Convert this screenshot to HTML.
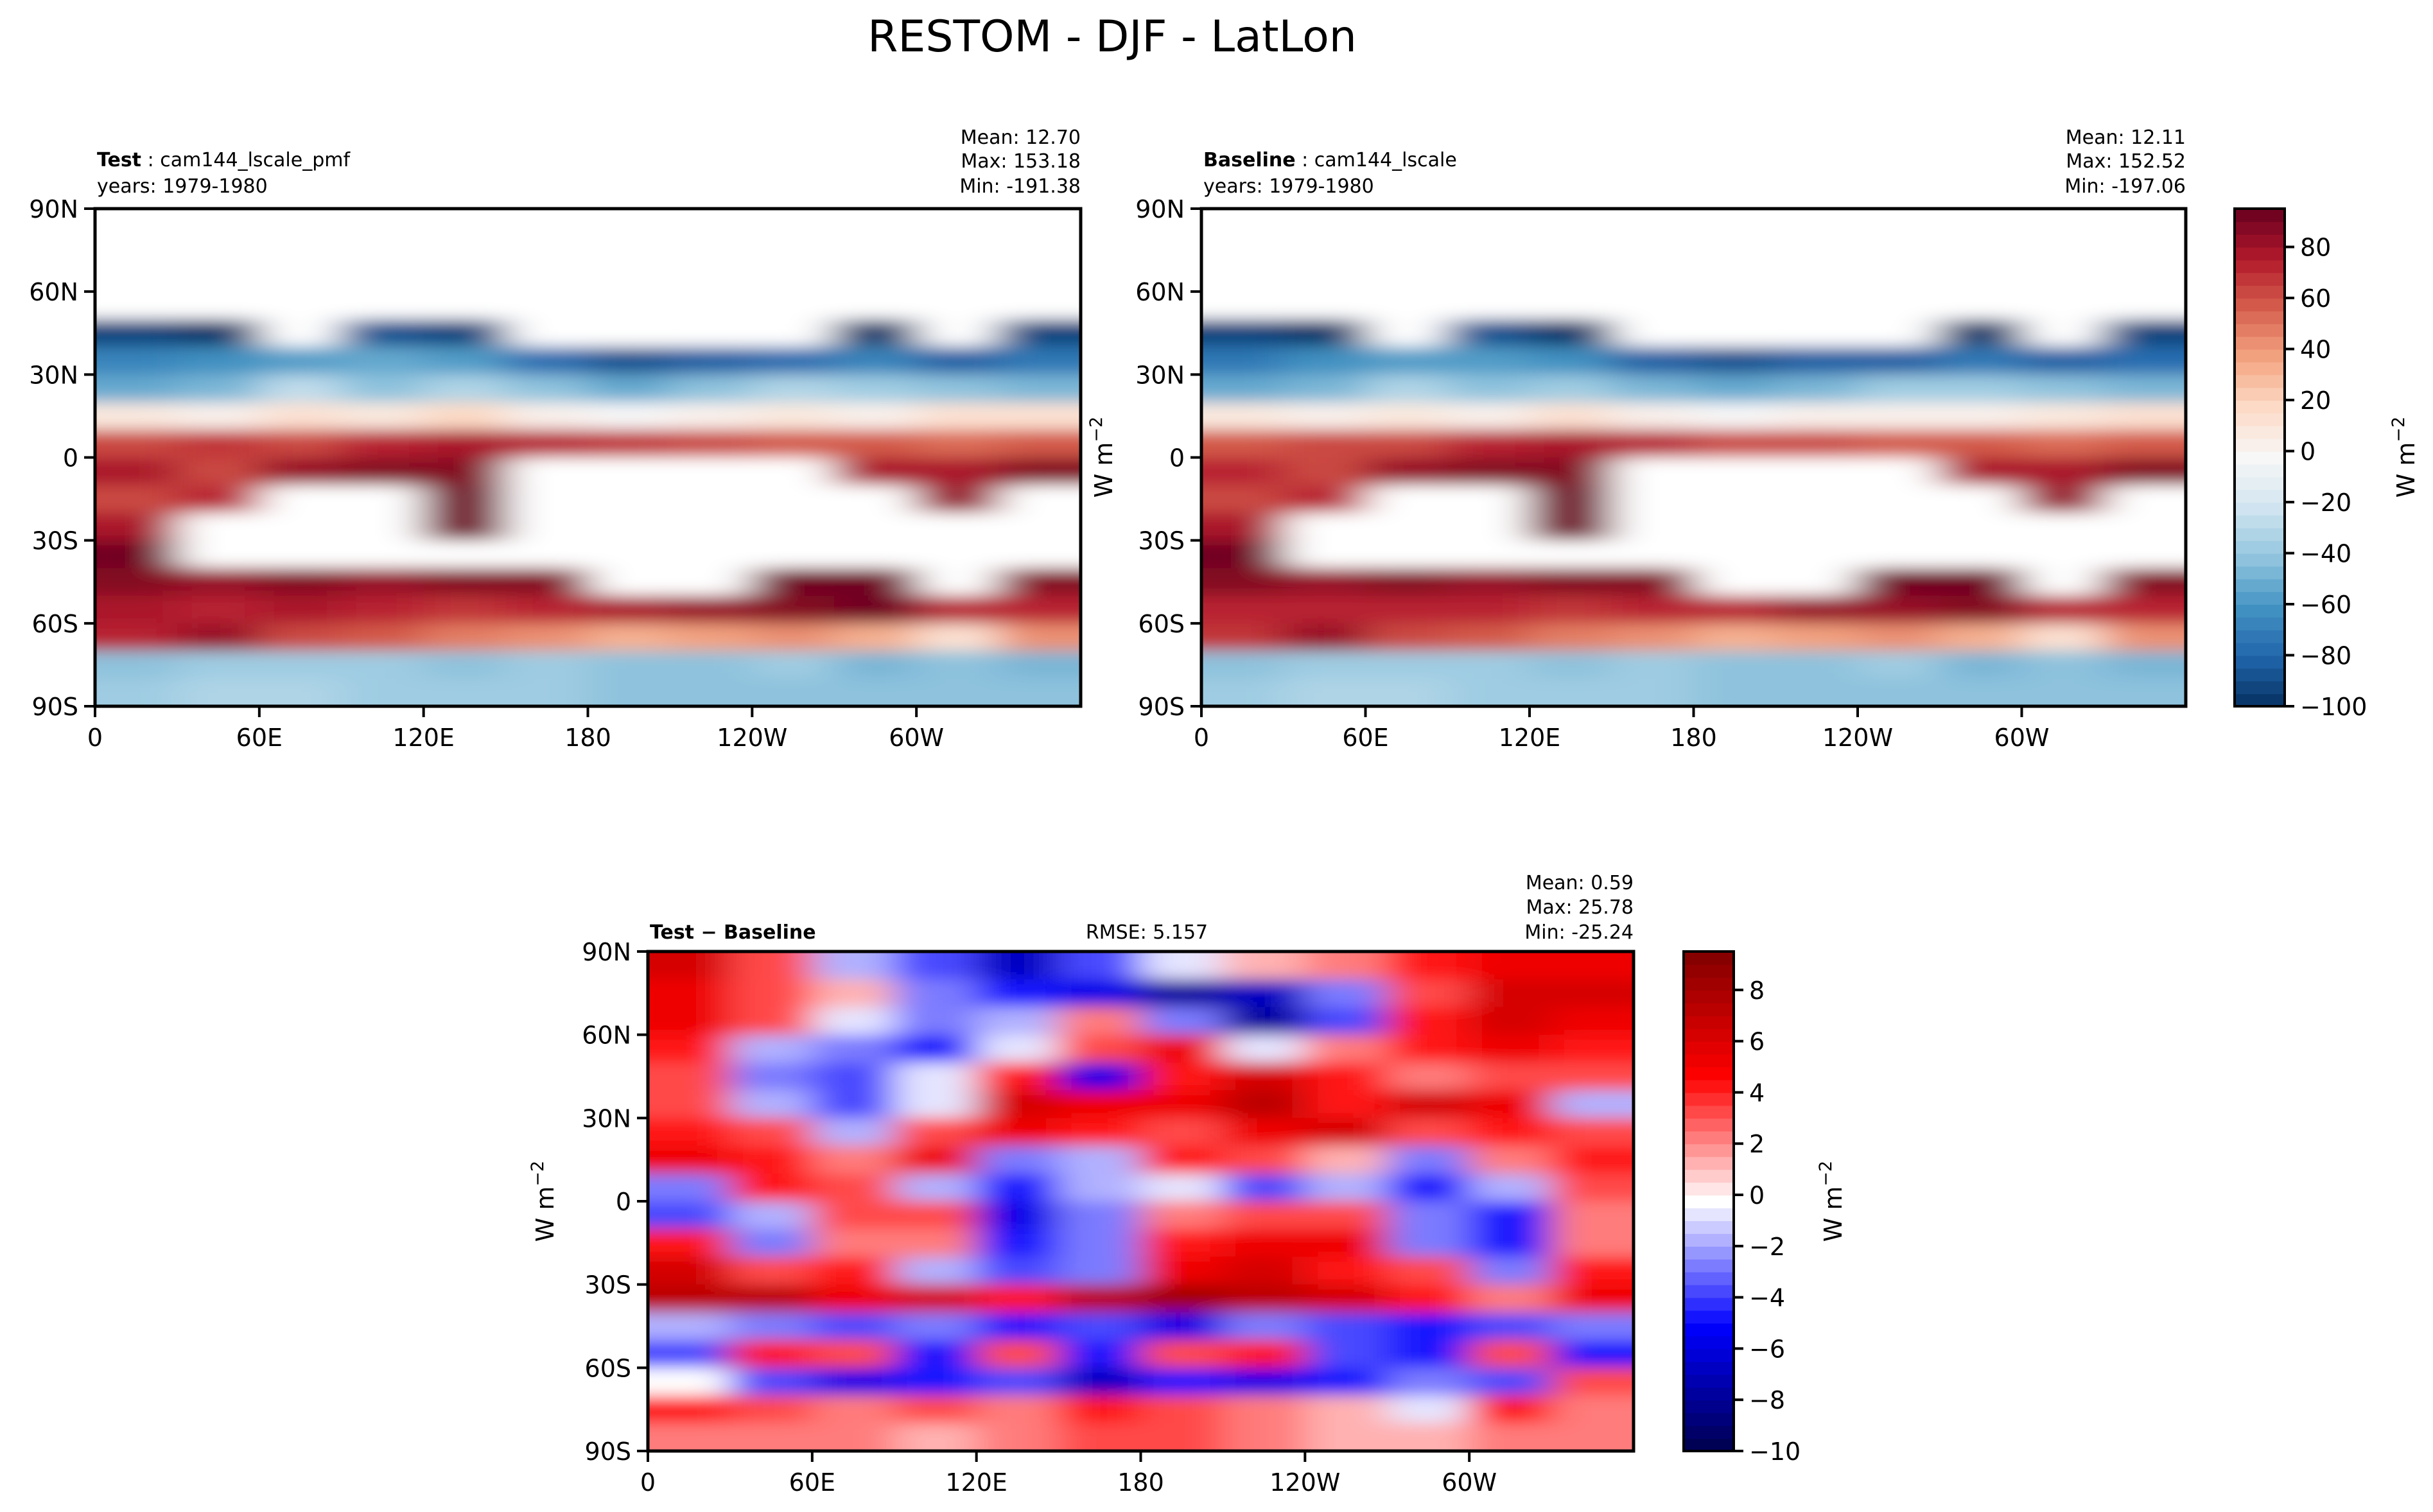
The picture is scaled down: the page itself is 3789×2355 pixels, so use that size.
<!DOCTYPE html>
<html><head><meta charset="utf-8">
<style>
html,body{margin:0;padding:0;background:#fff;}
svg{display:block;font-family:"DejaVu Sans","Liberation Sans",sans-serif;}
</style></head>
<body>
<svg id="fig" width="3789" height="2355" viewBox="0 0 3789 2355" xmlns="http://www.w3.org/2000/svg">
<defs>
<filter id="soft" x="-5%" y="-5%" width="110%" height="110%"><feGaussianBlur stdDeviation="34 12"/></filter>
<filter id="soft2" x="-5%" y="-5%" width="110%" height="110%"><feGaussianBlur stdDeviation="30 12"/></filter>
</defs>
<text x="1732" y="80" font-size="68" text-anchor="middle">RESTOM - DJF - LatLon</text>
</svg>
<script>
// ---- data ----
const latCenters = [85,75,65,55,45,35,25,15,5,-5,-15,-25,-35,-45,-55,-65,-75,-85];
const lonCenters = [15,45,75,105,135,165,195,225,255,285,315,345];
const latTicks = [90,60,30,0,-30,-60,-90];
const latTickLabels = ["90N","60N","30N","0","30S","60S","90S"];
const lonTicks = [0,60,120,180,240,300];
const lonTickLabels = ["0","60E","120E","180","120W","60W"];
const cbTicksTop = [80,60,40,20,0,-20,-40,-60,-80,-100];
const cbTicksDiff = [8,6,4,2,0,-2,-4,-6,-8,-10];
const W = 130, N = -130;
const testValues = [
[N,N,N,N,N,N,N,N,N,N,N,N],
[N,N,N,N,N,N,N,N,N,N,N,N],
[N,N,N,N,N,N,N,N,N,N,N,N],
[N,N,N,N,N,N,N,N,N,N,N,N],
[-95,-100,N,-90,-95,N,N,N,N,-100,N,-95],
[-70,-65,-60,-55,-60,-80,-90,-85,-80,-70,-85,-75],
[-55,-50,-30,-45,-35,-45,-55,-45,-35,-40,-45,-50],
[5,0,10,5,15,0,-5,0,5,0,10,10],
[60,65,60,70,75,70,65,60,55,55,50,55],
[75,60,80,85,85,W,W,W,W,75,75,85],
[60,70,W,W,90,W,W,W,W,W,80,W],
[75,W,W,W,90,W,W,W,W,W,W,W],
[90,W,W,W,W,W,W,W,W,W,W,W],
[85,80,85,80,85,88,W,W,90,90,W,85],
[75,70,75,70,65,70,75,80,85,90,70,70],
[70,80,60,55,45,40,30,35,40,30,10,40],
[-45,-40,-40,-40,-45,-40,-45,-45,-40,-50,-45,-50],
[-40,-35,-35,-40,-40,-40,-45,-45,-45,-45,-45,-45]];
const baselineValues = [
[N,N,N,N,N,N,N,N,N,N,N,N],
[N,N,N,N,N,N,N,N,N,N,N,N],
[N,N,N,N,N,N,N,N,N,N,N,N],
[N,N,N,N,N,N,N,N,N,N,N,N],
[-95,-100,N,-90,-100,N,N,N,N,-100,N,-95],
[-72,-64,-58,-57,-62,-82,-90,-84,-82,-72,-84,-76],
[-55,-48,-32,-44,-38,-46,-54,-46,-36,-40,-44,-50],
[5,2,8,4,12,0,-5,0,4,2,8,10],
[58,64,62,72,76,70,64,60,55,56,50,55],
[74,62,80,86,88,W,W,W,W,76,76,85],
[62,70,W,W,92,W,W,W,W,W,82,W],
[76,W,W,W,92,W,W,W,W,W,W,W],
[90,W,W,W,W,W,W,W,W,W,W,W],
[86,82,86,82,86,88,W,W,90,90,W,85],
[74,72,74,70,66,70,74,80,84,88,70,70],
[68,80,60,56,45,40,30,35,40,30,12,40],
[-45,-40,-40,-40,-45,-40,-45,-45,-40,-50,-45,-50],
[-40,-35,-35,-40,-40,-40,-45,-45,-45,-45,-45,-45]];
const diffValues = [
[6,3,-2,-4,-7,-4,-1,1,2,4,5,5],
[5,3,1,-3,-5,-6,-8,-7,-3,3,6,6],
[5,3,-1,-3,-2,2,-3,-8,-4,4,6,5],
[4,-2,-3,-5,-1,3,5,-1,2,4,5,4],
[3,-3,-4,-1,4,-6,4,6,4,2,3,3],
[3,-2,-4,-1,6,5,5,7,4,6,5,-2],
[4,3,-2,3,5,4,3,5,6,3,4,3],
[5,4,2,5,-3,-2,4,3,1,-3,2,4],
[-3,4,3,-2,-5,-2,-1,-4,-2,-5,-2,3],
[-4,-2,3,3,-6,-3,2,3,3,-3,-5,2],
[4,-3,2,2,-5,-3,4,5,5,-3,-5,2],
[6,3,4,-2,-4,-3,5,6,4,3,-3,4],
[7,7,5,6,4,7,8,7,6,4,2,5],
[-2,-3,-4,-3,-5,-4,-6,-3,-4,-5,-4,-3],
[-4,4,3,-5,3,-5,3,4,-4,-5,3,-5],
[10,-4,-6,-5,-4,-7,-5,-6,-5,-3,-4,3],
[4,3,2,3,2,4,3,2,1,-1,4,2],
[2,2,2,1,2,3,3,2,1,1,2,2]];

// ---- helpers ----
const NS = "http://www.w3.org/2000/svg";
const svg = document.getElementById('fig');
function mk(tag, attrs, parent){const e=document.createElementNS(NS,tag);for(const k in attrs)e.setAttribute(k,attrs[k]);(parent||svg).appendChild(e);return e;}
function lerpHex(stops,t){
  t=Math.max(0,Math.min(1,t));
  for(let i=0;i<stops.length-1;i++){
    const [a,ca]=stops[i],[b,cb]=stops[i+1];
    if(t<=b){const f=(t-a)/(b-a);
      const p=c=>[parseInt(c.slice(1,3),16),parseInt(c.slice(3,5),16),parseInt(c.slice(5,7),16)];
      const x=p(ca),y=p(cb);
      return 'rgb('+x.map((v,j)=>Math.round(v+(y[j]-v)*f)).join(',')+')';}
  }
  return stops[stops.length-1][1];
}
const rdbu=[[0,'#053061'],[0.1,'#2166ac'],[0.2,'#4393c3'],[0.3,'#92c5de'],[0.4,'#d1e5f0'],[0.5,'#f7f7f7'],[0.6,'#fddbc7'],[0.7,'#f4a582'],[0.8,'#d6604d'],[0.9,'#b2182b'],[1,'#67001f']];
const seis=[[0,'#00004c'],[0.25,'#0000ff'],[0.5,'#ffffff'],[0.75,'#ff0000'],[1,'#800000']];
function colTop(v){ if(v>95||v<-100) return '#ffffff'; const lv=Math.floor(v/5)*5; return lerpHex(rdbu,(lv+2.5+100)/195); }
function colDiff(v){ if(v>9.5||v<-10) return '#ffffff'; const lv=Math.floor(v*2)/2; return lerpHex(seis,(lv+0.25+10)/19.5); }

function panel(name, x0, y0, w, h, values, colFn, filt){
  const xs = lon => x0 + lon/360*w;
  const ys = lat => y0 + (90-lat)/180*h;
  const clipId='clip-'+name;
  const cp=mk('clipPath',{id:clipId}); mk('rect',{x:x0,y:y0,width:w,height:h},cp);
  const outer=mk('g',{'clip-path':'url(#'+clipId+')'});
  
  
  const g=mk('g',{filter:'url(#'+filt+')'},outer);
  const pad=80;
  values.forEach((row,i)=>{
    row.forEach((v,j)=>{
      let xa=xs(lonCenters[j]-15), xb=xs(lonCenters[j]+15), ya=ys(latCenters[i]+5), yb=ys(latCenters[i]-5);
      if(j===0) xa-=pad; if(j===row.length-1) xb+=pad; if(i===0) ya-=pad; if(i===values.length-1) yb+=pad;
      const r=mk('rect',{x:xa,y:ya,width:xb-xa+1,height:yb-ya+1,fill:colFn(v)},g);
      
      
    });
  });
  const fr=mk('rect',{x:x0,y:y0,width:w,height:h,fill:'none',stroke:'#000','stroke-width':5});
  
  
  latTicks.forEach((lat,k)=>{
    mk('line',{x1:x0-17,x2:x0,y1:ys(lat),y2:ys(lat),stroke:'#000','stroke-width':4});
    const t=mk('text',{x:x0-26,y:ys(lat)+14,'font-size':38,'text-anchor':'end'});
    t.textContent=latTickLabels[k];
    
    
  });
  lonTicks.forEach((lon,k)=>{
    mk('line',{x1:xs(lon),x2:xs(lon),y1:y0+h,y2:y0+h+17,stroke:'#000','stroke-width':4});
    const t=mk('text',{x:xs(lon),y:y0+h+62,'font-size':38,'text-anchor':'middle'});
    t.textContent=lonTickLabels[k];
    
    
  });
}
function colorbar(name,x0,y0,w,h,vmin,vmax,step,ticks,colFn){
  const ys=v=>y0+(vmax-v)/(vmax-vmin)*h;
  for(let v=vmin; v<vmax-1e-9; v+=step){
    const top=Math.min(v+step,vmax);
    const r=mk('rect',{x:x0,y:ys(top),width:w,height:ys(v)-ys(top)+1,fill:colFn(v+step/2)});
    
    
  }
  const fr=mk('rect',{x:x0,y:y0,width:w,height:h,fill:'none',stroke:'#000','stroke-width':4});
  
  
  ticks.forEach(v=>{
    mk('line',{x1:x0+w,x2:x0+w+15,y1:ys(v),y2:ys(v),stroke:'#000','stroke-width':4});
    const t=mk('text',{x:x0+w+24,y:ys(v)+14,'font-size':38});
    t.textContent=(v<0?'\u2212':'')+Math.abs(v);
    
    
  });
}
function label(name,x,y,txt,size,anchor,weight){
  const t=mk('text',{x:x,y:y,'font-size':size,'text-anchor':anchor||'start','font-weight':weight||'normal'});
  t.textContent=txt;
  
  
  return t;
}
function wm2(name,x,y){
  const t=mk('text',{x:x,y:y,'font-size':38,'text-anchor':'middle',transform:'rotate(-90 '+x+' '+y+')'});
  t.innerHTML='W m<tspan dy="-16" font-size="27">\u22122</tspan>';
  
  
}

// ---- panels ----
panel('test',148,325,1535,775,testValues,colTop,'soft');
panel('baseline',1871,325,1533,775,baselineValues,colTop,'soft');
panel('diff',1009,1482,1535,778,diffValues,colDiff,'soft2');
colorbar('colorbar-top',3480,325,78,775,-100,95,5,cbTicksTop,colTop);
colorbar('colorbar-diff',2622,1482,78,778,-10,9.5,0.5,cbTicksDiff,colDiff);

// ---- annotations ----
const t1=label('test-name',151,259,'',30);
t1.innerHTML='<tspan font-weight="bold">Test</tspan> : cam144_lscale_pmf';
label('test-years',151,300,'years: 1979-1980',30);
label('test-mean',1683,224,'Mean: 12.70',30,'end');
label('test-max',1683,261,'Max: 153.18',30,'end');
label('test-min',1683,300,'Min: -191.38',30,'end');
const t2=label('baseline-name',1874,259,'',30);
t2.innerHTML='<tspan font-weight="bold">Baseline</tspan> : cam144_lscale';
label('baseline-years',1874,300,'years: 1979-1980',30);
label('baseline-mean',3404,224,'Mean: 12.11',30,'end');
label('baseline-max',3404,261,'Max: 152.52',30,'end');
label('baseline-min',3404,300,'Min: -197.06',30,'end');
label('diff-title',1012,1462,'Test \u2212 Baseline',30,'start','bold');
label('rmse',1786,1462,'RMSE: 5.157',30,'middle');
label('diff-mean',2544,1385,'Mean:  0.59',30,'end');
label('diff-max',2544,1423,'Max: 25.78',30,'end');
label('diff-min',2544,1462,'Min: -25.24',30,'end');
wm2('top-units-label',1732,712);
wm2('colorbar-top-units',3760,712);
wm2('diff-units-label',862,1871);
wm2('colorbar-diff-units',2868,1871);
</script>
</body></html>
